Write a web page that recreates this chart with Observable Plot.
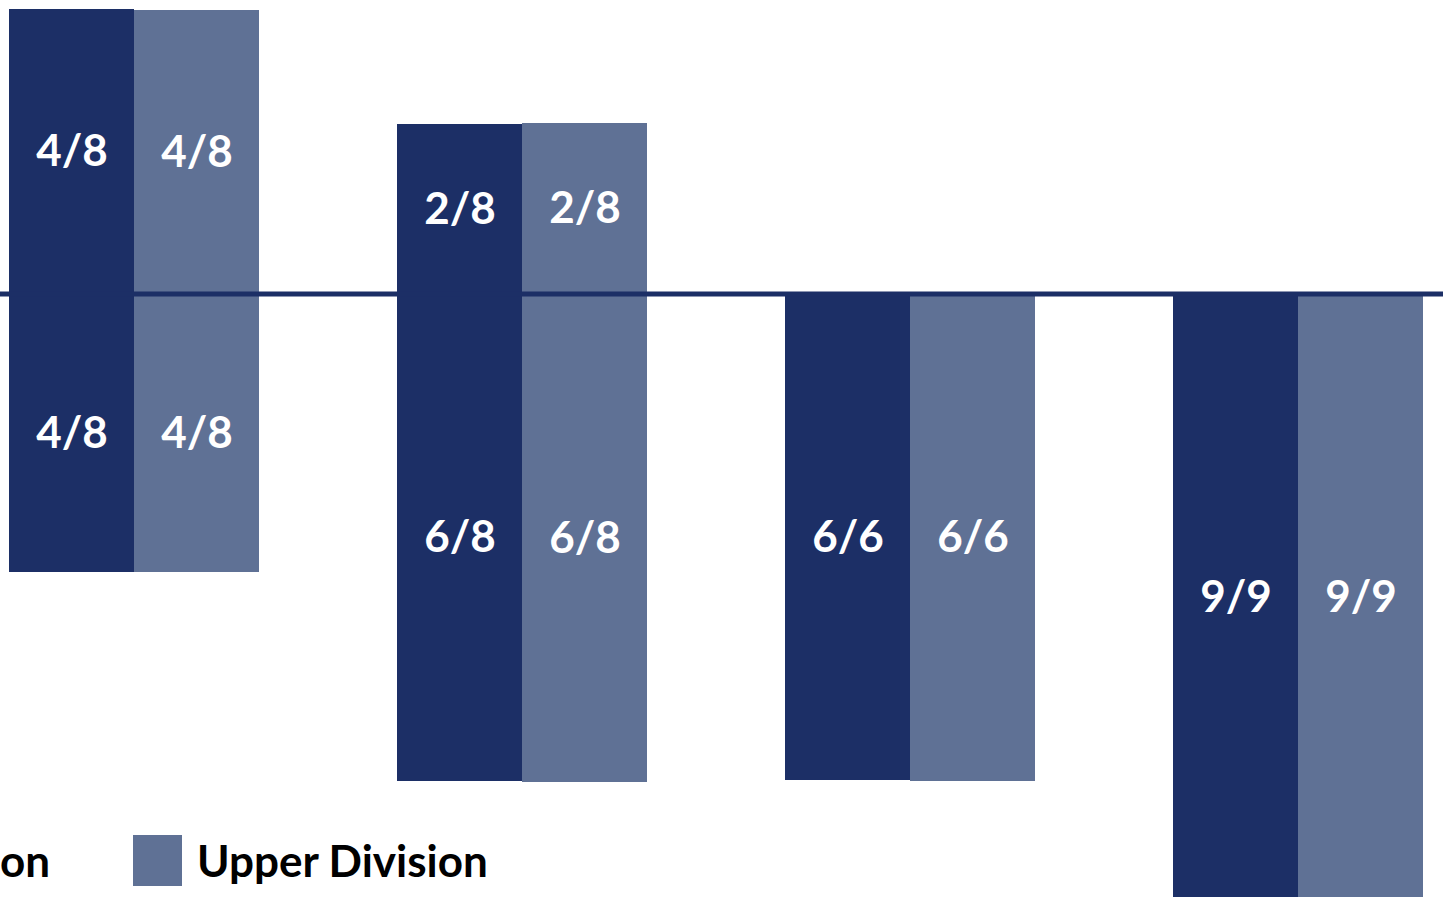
<!DOCTYPE html>
<html>
<head>
<meta charset="utf-8">
<script src="https://cdn.jsdelivr.net/npm/d3@7"></script>
<script src="https://cdn.jsdelivr.net/npm/@observablehq/plot@0.6"></script>
<style>
  html, body { margin: 0; padding: 0; background: #fff; overflow: hidden; }
  #wrap { position: relative; width: 1443px; height: 897px; }
  .legend-item { position: absolute; top: 835px; display: flex; align-items: center; white-space: nowrap;
    font-family: Lato, "Open Sans", sans-serif; font-weight: bold; font-size: 44px; color: #000; line-height: 51px; }
  .swatch { width: 49px; height: 51px; margin-right: 15px; flex: none; }
</style>
</head>
<body>
<div id="wrap"></div>
<script>
// ---- data ----
const groups = ["Group 1", "Group 2", "Group 3", "Group 4"];
const divisions = ["Lower Division", "Upper Division"];
const colors = ["#1c2f66", "#5f7195"];

// bar lengths above the baseline
const aboveLower = [28.5, 17.0, 0, 0];
const aboveUpper = [28.4, 17.1, 0, 0];
const aboveLabelsLower = ["4/8", "2/8", "", ""];
const aboveLabelsUpper = ["4/8", "2/8", "", ""];

// bar lengths below the baseline
const belowLower = [27.8, 48.7, 48.6, 60.6];
const belowUpper = [27.8, 48.8, 48.7, 60.6];
const belowLabelsLower = ["4/8", "6/8", "6/6", "9/9"];
const belowLabelsUpper = ["4/8", "6/8", "6/6", "9/9"];

const baseline = [0];

// ---- table ----
const rows = [];
groups.forEach((g, i) => {
  rows.push({group: g, division: divisions[0], value: aboveLower[i], label: aboveLabelsLower[i]});
  rows.push({group: g, division: divisions[1], value: aboveUpper[i], label: aboveLabelsUpper[i]});
  rows.push({group: g, division: divisions[0], value: -belowLower[i], label: belowLabelsLower[i]});
  rows.push({group: g, division: divisions[1], value: -belowUpper[i], label: belowLabelsUpper[i]});
});
const bars = rows.filter(d => d.value !== 0);

const W = 1443, H = 897;
const chart = Plot.plot({
  width: W,
  height: H,
  margin: 0,
  style: {background: "white"},
  fx: {domain: groups, axis: null, paddingInner: 0.356, paddingOuter: 0.037, align: 0.31},
  x: {domain: divisions, axis: null, padding: 0},
  y: {domain: [-60.3, 29.4], axis: null},
  color: {domain: divisions, range: colors},
  marks: [
    Plot.barY(bars, {fx: "group", x: "division", y: "value", fill: "division"}),
    Plot.text(bars.filter(d => d.label), {
      fx: "group", x: "division", y: d => d.value / 2, text: "label",
      fill: "white", fontSize: 44, fontWeight: "bold", fontFamily: "Lato, 'Open Sans', sans-serif"
    })
  ]
});
const wrap = document.getElementById("wrap");
wrap.appendChild(chart);

// full-width baseline through the plot's own y scale
const yScale = chart.scale("y");
const svg = d3.select(chart.tagName.toLowerCase() === "svg" ? chart : chart.querySelector("svg"));
svg.append("g").selectAll("line").data(baseline).join("line")
  .attr("x1", 0).attr("x2", W)
  .attr("y1", d => yScale.apply(d)).attr("y2", d => yScale.apply(d))
  .attr("stroke", colors[0]).attr("stroke-width", 5);

// legend (partly cut off at the left edge, as in the reference)
const lower = document.createElement("div");
lower.className = "legend-item";
lower.style.right = (W - 50) + "px";
lower.innerHTML = `<span class="swatch" style="background:${colors[0]}"></span><span>${divisions[0]}</span>`;
const upper = document.createElement("div");
upper.className = "legend-item";
upper.style.left = "133px";
upper.innerHTML = `<span class="swatch" style="background:${colors[1]}"></span><span>${divisions[1]}</span>`;
wrap.appendChild(lower);
wrap.appendChild(upper);
</script>
</body>
</html>
